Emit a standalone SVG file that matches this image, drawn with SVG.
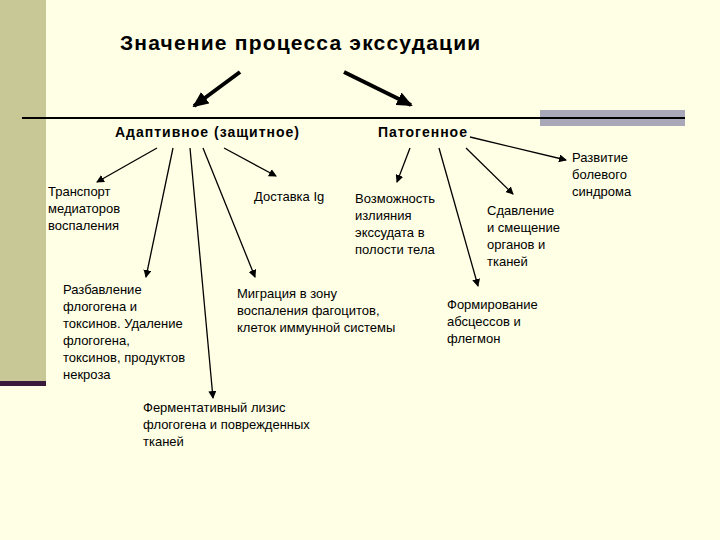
<svg xmlns="http://www.w3.org/2000/svg" width="720" height="540" viewBox="0 0 720 540">
<defs>
<marker id="a" markerWidth="8" markerHeight="8" refX="7" refY="4" orient="auto" markerUnits="userSpaceOnUse"><path d="M0,0 L8,4 L0,8 z" fill="#000"/></marker>
<marker id="b" markerWidth="16" markerHeight="14" refX="14" refY="7" orient="auto" markerUnits="userSpaceOnUse"><path d="M0,0 L16,7 L0,14 z" fill="#000"/></marker>
<style>
text{font-family:"Liberation Sans",Arial,sans-serif;font-size:13px;fill:#000}
.h{font-weight:bold;font-size:14px;letter-spacing:1px}
.t{font-weight:bold;font-size:21px;letter-spacing:1.2px}
.c line{stroke:#000;stroke-width:1.3;marker-end:url(#a)}
</style>
</defs>
<rect width="720" height="540" fill="#FFFFE5"/>
<rect x="0" y="0" width="46" height="381" fill="#C8C896"/>
<rect x="0" y="381" width="46" height="5" fill="#3a1a3a"/>
<rect x="540" y="110" width="145" height="16" fill="#A8A8B8"/>
<line x1="22" y1="118" x2="685" y2="118" stroke="#000" stroke-width="2"/>
<g id="title"><text class="t" x="120" y="50">Значение процесса экссудации</text></g>
<g class="c" id="connectors">
<line x1="240" y1="72" x2="194" y2="106" style="stroke-width:4;marker-end:url(#b)"/>
<line x1="344" y1="72" x2="411" y2="105" style="stroke-width:4;marker-end:url(#b)"/>
<line x1="157" y1="148" x2="97" y2="182"/>
<line x1="173" y1="148" x2="146" y2="277"/>
<line x1="190" y1="148" x2="213" y2="398"/>
<line x1="203" y1="148" x2="255" y2="277"/>
<line x1="224" y1="148" x2="276" y2="176"/>
<line x1="410" y1="148" x2="397" y2="182"/>
<line x1="439" y1="148" x2="478" y2="286"/>
<line x1="466" y1="148" x2="513" y2="194"/>
<line x1="470" y1="137" x2="566" y2="160"/>
</g>
<g id="adapt"><text class="h" x="115" y="137">Адаптивное (защитное)</text></g>
<g id="patog"><text class="h" x="378" y="137">Патогенное</text></g>
<g id="n1"><text x="48" y="196">Транспорт</text><text x="48" y="213">медиаторов</text><text x="48" y="230">воспаления</text></g>
<g id="n2"><text x="254" y="201">Доставка Ig</text></g>
<g id="n3"><text x="63" y="294"> Разбавление</text><text x="63" y="311">флогогена и</text><text x="63" y="328">токсинов. Удаление</text><text x="63" y="345">флогогена,</text><text x="63" y="362">токсинов, продуктов</text><text x="63" y="379">некроза</text></g>
<g id="n4"><text x="237" y="298">Миграция в зону</text><text x="237" y="315">воспаления фагоцитов,</text><text x="237" y="332">клеток иммунной системы</text></g>
<g id="n5"><text x="143" y="412">Ферментативный лизис</text><text x="143" y="429">флогогена и поврежденных</text><text x="143" y="446">тканей</text></g>
<g id="n6"><text x="355" y="203">Возможность</text><text x="355" y="220">излияния</text><text x="355" y="237">экссудата в</text><text x="355" y="254">полости тела</text></g>
<g id="n7"><text x="487" y="215">Сдавление</text><text x="487" y="232">и смещение</text><text x="487" y="249">органов и</text><text x="487" y="266">тканей</text></g>
<g id="n8"><text x="572" y="162">Развитие</text><text x="572" y="179">болевого</text><text x="572" y="196">синдрома</text></g>
<g id="n9"><text x="447" y="309">Формирование</text><text x="447" y="326">абсцессов и</text><text x="447" y="343">флегмон</text></g>
</svg>
